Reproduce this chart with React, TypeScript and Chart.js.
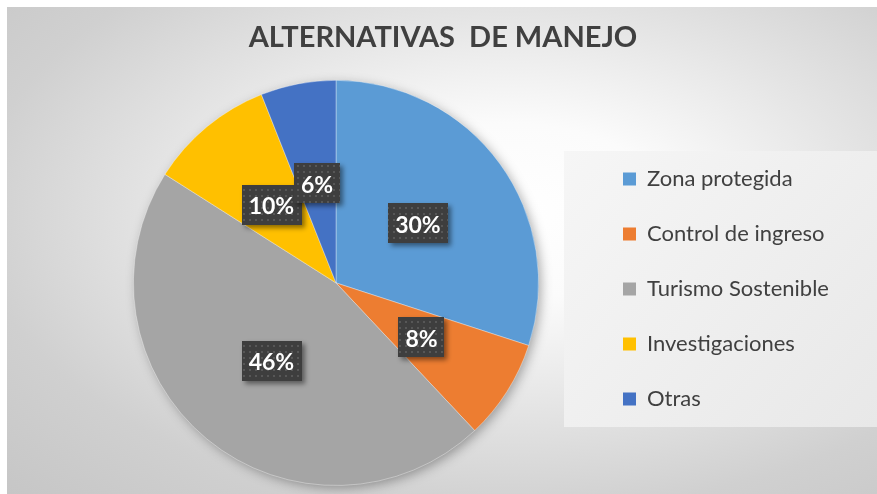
import React, { useEffect, useRef } from 'react';
import { Chart, registerables } from 'chart.js';

Chart.register(...registerables);

const chartTitle = 'ALTERNATIVAS  DE MANEJO';
const categories = ['Zona protegida', 'Control de ingreso', 'Turismo Sostenible', 'Investigaciones', 'Otras'];
const percentages = [30, 8, 46, 10, 6];
const sliceColors = ['#5B9BD5', '#ED7D31', '#A5A5A5', '#FFC000', '#4472C4'];

const TEXT_COLOR = '#404040';

// Light panel behind the legend entries
const legendPanel = {
  id: 'legendPanel',
  beforeDraw(chart: any) {
    const ctx = chart.ctx as CanvasRenderingContext2D;
    const x = 557, y = 144, w = 313, h = 276;
    const g = ctx.createLinearGradient(x, y, x + w, y + h);
    g.addColorStop(0, '#f6f6f6');
    g.addColorStop(1, '#e8e8e8');
    ctx.save();
    ctx.fillStyle = g;
    ctx.fillRect(x, y, w, h);
    ctx.restore();
  },
};

// The legend reserves a narrow slot during layout; let its labels run to the canvas edge
const legendReach = {
  id: 'legendReach',
  afterLayout(chart: any) {
    const lg = chart.legend;
    if (!lg) return;
    lg.right = chart.width;
    lg.width = lg.right - lg.left;
  },
};

// Soft drop shadow under the whole pie
const pieShadow = {
  id: 'pieShadow',
  beforeDatasetsDraw(chart: any) {
    const arc = chart.getDatasetMeta(0).data[0];
    if (!arc) return;
    const { x, y, outerRadius } = arc.getProps(['x', 'y', 'outerRadius'], true);
    const ctx = chart.ctx as CanvasRenderingContext2D;
    ctx.save();
    ctx.shadowColor = 'rgba(0,0,0,0.35)';
    ctx.shadowBlur = 12;
    ctx.shadowOffsetX = 3;
    ctx.shadowOffsetY = 3;
    ctx.beginPath();
    ctx.arc(x, y, outerRadius - 1, 0, Math.PI * 2);
    ctx.fillStyle = '#a5a5a5';
    ctx.fill();
    ctx.restore();
  },
};

function makeDotPattern(ctx: CanvasRenderingContext2D) {
  const c = document.createElement('canvas');
  c.width = 6;
  c.height = 6;
  const p = c.getContext('2d')!;
  p.fillStyle = '#3e3e3e';
  p.fillRect(0, 0, 6, 6);
  p.fillStyle = '#575757';
  p.fillRect(2, 2, 2, 2);
  return ctx.createPattern(c, 'repeat');
}

// Percentage callouts: dark dotted boxes centred on each slice
const valueLabels = {
  id: 'valueLabels',
  afterDatasetsDraw(chart: any) {
    const ctx = chart.ctx as CanvasRenderingContext2D;
    const meta = chart.getDatasetMeta(0);
    const values = chart.data.datasets[0].data as number[];
    const pattern = makeDotPattern(ctx);
    ctx.save();
    ctx.font = 'bold 23px Lato';
    ctx.textAlign = 'center';
    ctx.textBaseline = 'middle';
    meta.data.forEach((arc: any, i: number) => {
      const { x, y } = arc.getCenterPoint(true);
      const text = `${values[i]}%`;
      const tw = ctx.measureText(text).width;
      const w = tw + 14;
      const h = 40;
      ctx.save();
      ctx.shadowColor = 'rgba(0,0,0,0.45)';
      ctx.shadowBlur = 5;
      ctx.shadowOffsetX = 3;
      ctx.shadowOffsetY = 3;
      ctx.fillStyle = pattern || '#404040';
      ctx.fillRect(Math.round(x - w / 2), Math.round(y - h / 2), Math.round(w), h);
      ctx.restore();
      ctx.fillStyle = '#ffffff';
      ctx.fillText(text, x, y + 2);
    });
    ctx.restore();
  },
};

export default function App() {
  const canvasRef = useRef<HTMLCanvasElement | null>(null);

  useEffect(() => {
    if (!canvasRef.current) return;
    const chart = new Chart(canvasRef.current, {
      type: 'pie',
      data: {
        labels: categories,
        datasets: [
          {
            data: percentages,
            backgroundColor: sliceColors,
            borderColor: 'rgba(255,255,255,0.35)',
            borderWidth: 1,
          },
        ],
      },
      options: {
        animation: false,
        responsive: false,
        layout: { padding: { left: 75, right: 73, top: 0, bottom: 8 } },
        plugins: {
          title: {
            display: true,
            text: chartTitle,
            color: TEXT_COLOR,
            font: { family: 'Lato', size: 29, weight: 'bold', lineHeight: 1.2 },
            padding: { top: 13, bottom: 25 },
          },
          legend: {
            position: 'right',
            align: 'center',
            fullSize: false,
            maxWidth: 214,
            title: { display: true, text: '', font: { size: 10 }, padding: 0 },
            labels: {
              boxWidth: 13,
              boxHeight: 13,
              padding: 33,
              color: TEXT_COLOR,
              font: { family: 'Lato', size: 22 },
              generateLabels: () =>
                categories.map((text, i) => ({
                  text,
                  fillStyle: sliceColors[i],
                  strokeStyle: sliceColors[i],
                  lineWidth: 0,
                  hidden: false,
                  index: i,
                  fontColor: TEXT_COLOR,
                })),
            },
          },
          tooltip: { enabled: false },
        },
      },
      plugins: [legendPanel, legendReach, pieShadow, valueLabels],
    });
    return () => chart.destroy();
  }, []);

  return (
    <div
      style={{
        position: 'fixed',
        left: 7,
        top: 7,
        width: 870,
        height: 487,
        background:
          'radial-gradient(ellipse farthest-corner at 58% 42%, #ffffff 0%, #fbfbfb 22%, #e4e4e4 50%, #d0d0d0 75%, #c6c6c6 100%)',
      }}
    >
      <canvas ref={canvasRef} width={870} height={487} style={{ display: 'block' }} />
    </div>
  );
}
